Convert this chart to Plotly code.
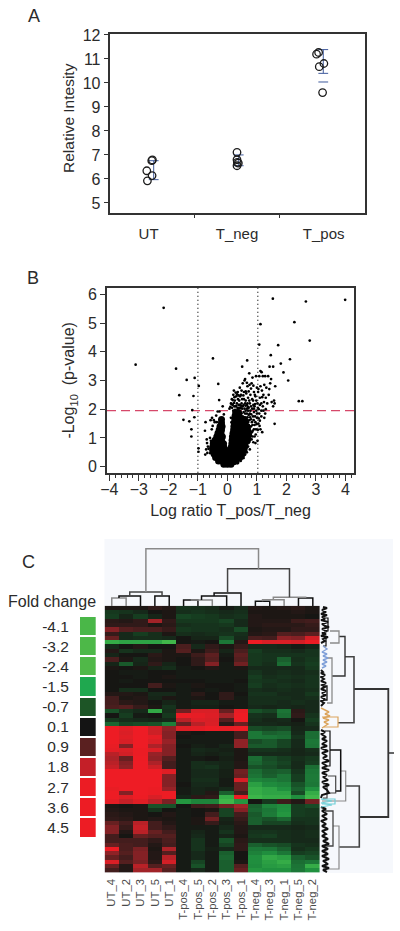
import plotly.graph_objects as go

W, H = 400, 931
FONT = "Liberation Sans"
TXT = "#2b2b2b"

# ---------- Panel A ----------
CATS = ["UT", "T_neg", "T_pos"]
CAT_POS = [0.46, 1.5, 2.52]
A_X = [0.439, 0.446, 0.501, 0.497, 0.505, 1.5, 1.5, 1.504, 1.516, 1.5, 2.436, 2.46, 2.522, 2.468, 2.507]
A_Y = [6.34, 5.92, 6.14, 6.76, 6.79, 7.11, 6.80, 6.69, 6.66, 6.55, 11.2, 11.27, 10.81, 10.68, 9.6]
ERR_X = [0.52, 1.52, 2.515]
ERR_HI = [6.76, 7.0, 11.39]
ERR_LO = [5.97, 6.55, 10.4]
ERR_EXTRA = [10.04]

# ---------- Panel B ----------
VOL_CORE = [
 (-.12,.08),(0,.08),(.12,.08),
 (-.3,.2),(-.18,.2),(-.06,.2),(.06,.2),(.18,.2),(.3,.2),
 (-.4,.32),(-.28,.32),(-.16,.32),(-.04,.32),(.08,.32),(.2,.32),(.32,.32),(.42,.32),
 (-.45,.44),(-.33,.44),(-.21,.44),(-.09,.44),(.03,.44),(.15,.44),(.27,.44),(.39,.44),(.5,.44),
 (-.5,.56),(-.38,.56),(-.26,.56),(-.14,.56),(-.03,.56),(.1,.56),(.22,.56),(.34,.56),(.46,.56),(.56,.56),
 (-.5,.68),(-.38,.68),(-.26,.68),(-.12,.68),(.13,.68),(.25,.68),(.37,.68),(.49,.68),(.58,.68),
 (-.48,.8),(-.36,.8),(-.24,.8),(-.13,.8),(.15,.8),(.27,.8),(.39,.8),(.51,.8),(.6,.8),
 (-.42,.92),(-.3,.92),(-.2,.92),(.16,.92),(.28,.92),(.4,.92),(.52,.92),(.62,.92),(.68,.92),
 (-.36,1.04),(-.26,1.04),(-.17,1.04),(.17,1.04),(.29,1.04),(.41,1.04),(.53,1.04),(.62,1.04),(.7,1.04),
 (-.32,1.16),(-.22,1.16),(.19,1.16),(.31,1.16),(.43,1.16),(.55,1.16),(.66,1.16),(.72,1.16),
 (-.28,1.28),(-.2,1.28),(.21,1.28),(.33,1.28),(.45,1.28),(.58,1.28),(.68,1.28),
 (-.25,1.4),(-.18,1.4),(.22,1.4),(.34,1.4),(.46,1.4),(.56,1.4),(.66,1.4),
 (-.2,1.52),(.23,1.52),(.35,1.52),(.47,1.52),(.58,1.52),
 (-.2,1.64),(.25,1.64),(.37,1.64),(.47,1.64),(.58,1.64),
 (.26,1.76),(.38,1.76),(.28,1.88),(.38,1.88),
]
VOL_SPARSE = [
 (3.99,5.81),(2.66,5.75),(1.54,5.85),(-2.16,5.53),(2.27,5.03),(1.12,4.96),(2.79,4.39),(1.08,4.25),(1.72,4.23),
 (-.49,3.77),(.67,3.7),(2.12,3.74),(1.47,3.88),(-3.11,3.55),(-1.74,3.41),(1.81,3.59),(.5,3.48),(1.43,3.48),
 (1.55,3.48),(1.12,3.33),(1.16,3.29),(1.9,3.28),(2.06,3.0),(-1.38,3.02),(-1.11,3.09),(-.31,2.88),(-.97,2.81),
 (-1.63,2.49),(-1.15,2.46),(2.42,2.28),(2.54,2.28),(1.6,1.49),(-1.49,1.63),(-1.29,1.58),(-1.22,1.3),(-1.22,1.05),
 (-1.12,1.72),(-1.19,1.97),(-.98,.64),(-.98,.52),
 (.07,2.02),(.12,2.2),(.15,2.35),(.18,2.15),(.2,2.5),(.22,2.65),(.25,2.3),(.28,2.1),(.3,2.45),(.32,2.2),(.35,2.6),
 (.36,2.35),(.38,2.15),(.4,2.3),(.42,2.75),(.45,2.05),(.46,2.5),(.48,2.2),(.5,2.35),(.52,2.9),(.55,2.15),(.56,2.6),
 (.58,3.0),(.6,3.05),(.62,2.3),(.64,2.55),(.66,2.15),(.68,2.8),(.7,2.4),(.72,2.05),(.74,3.25),(.76,2.2),(.78,2.5),
 (.8,2.1),(.82,2.9),(.85,3.1),(.87,2.3),(.9,2.6),(.92,2.1),(.95,2.45),(.97,3.15),(1.0,2.75),(1.02,2.2),(1.04,2.6),
 (1.05,2.7),(1.08,3.15),(1.1,2.4),(1.12,2.8),(1.15,2.2),(1.17,2.65),(1.2,3.15),(1.22,2.5),(1.25,2.85),(1.28,3.15),
 (1.3,2.4),(1.32,2.75),(1.35,2.2),(1.38,3.15),(1.42,2.7),(1.45,2.9),(1.48,3.05),(1.5,2.25),(1.55,2.1),(1.58,2.3),
 (1.62,2.8),(1.6,2.2),(1.4,2.5),(1.3,2.0),(1.2,2.1),(1.15,1.95),(1.03,2.05),(.98,2.3),(.93,2.5),(.88,2.15),(.84,2.35),
 (.74,2.3),(.68,2.2),(.6,2.2),(.56,2.35),(.52,2.1),(.42,2.15),(.34,2.05),(.24,2.1),(.16,2.05),(.1,2.08),
 (.55,1.9),(.6,1.7),(.62,1.95),(.66,1.85),(.7,1.55),(.72,1.8),(.75,1.35),(.78,1.95),(.8,1.65),(.83,1.2),(.85,1.45),
 (.87,1.75),(.9,1.9),(.92,1.05),(.95,1.55),(.97,1.3),(1.0,1.7),(1.02,.9),(1.05,1.5),(1.08,1.85),(1.1,1.6),(1.12,1.3),
 (1.15,1.75),(1.18,1.2),(1.22,1.95),(1.25,1.7),(.88,.85),(.95,.82),(.75,.95),(.72,1.1),(.68,.85),(.82,.95),(.7,.7),
 (.76,.6),(.66,.5),(.6,.42),(.55,.3),(.45,.2),(.35,.12),(.25,.1),
 (.58,1.55),(.62,1.35),(.65,1.6),(.68,1.3),(.72,1.45),(.78,1.15),(.8,1.4),(.85,1.05),(.9,1.3),(.94,1.75),(.98,1.95),
 (.7,1.95),(.6,1.85),(.52,1.75),(.56,1.65),(.48,1.85),(.42,1.95),(.33,1.95),(.2,1.95),(.12,1.7),(.14,1.55),
 (.74,1.02),(.77,1.25),(.8,1.08),(.73,.84),(.71,1.22),(.74,1.62),(.77,1.72),(.83,1.55),(.86,1.25),(.89,1.62),(.92,1.45),
 (.96,1.12),(.99,1.48),(1.03,1.28),(1.06,1.68),(1.09,1.42),(.68,1.72),(.7,2.08),(.76,1.85),(.81,1.82),(.84,2.02),(.9,2.02),
 (.94,2.18),(1.0,1.85),(1.06,2.0),(1.1,2.15),(1.18,2.42),(1.24,2.25),(1.28,1.85),(.66,2.02),(.62,2.12),(.58,2.02),(.5,2.02),
 (.46,2.12),(.44,1.82),(.4,2.05),(.36,2.02),(.3,2.12),(.26,1.98),(.22,2.22),(.18,2.32),(.14,2.18),(.24,2.42),(.33,2.52),
 (.43,2.45),(.54,2.48),(.62,2.62),(.72,2.62),(.8,2.72),(.88,2.82),(.48,2.65),(.38,2.48),(.28,2.58),(.66,2.92),(.75,2.85),
 (-.76,1.25),(-.74,1.55),(-.7,.95),(-.69,.82),(-.66,.7),(-.64,.62),(-.59,1.0),(-.56,.9),(-.53,1.3),(-.5,1.42),(-.46,1.62),
 (-.43,1.55),(-.38,1.78),(-.36,1.55),(-.27,1.92),(-.16,2.1),(-.12,1.82),(-.28,2.32),(-.33,1.92),(-.52,1.7),(-.57,1.62),
 (-.72,.6),(-.75,.42),(-.68,.48),(-.58,.47),
]
LOG_CUT_LEFT = -1.0
LOG_CUT_RIGHT = 1.03
P_CUT = 1.95

# ---------- Panel C ----------
SAMPLES = ["UT_4","UT_2","UT_3","UT_5","UT_1","T-pos_4","T-pos_5","T-pos_2","T-pos_3","T-pos_1",
           "T-neg_4","T-neg_3","T-neg_1","T-neg_5","T-neg_2"]
FOLD = [-4.1,-3.2,-2.4,-1.5,-0.7,0.1,0.9,1.8,2.7,3.6,4.5]
FOLD_COL = ["#4ab748","#4db848","#50b848","#1fa84f","#1d5526","#141414","#5a2020","#c41f28","#ec1c24","#ed1c24","#ed1c24"]
CELL_COL = ["#4cbb4a","#3cb54a","#20913f","#1c7436","#163d20","#161613","#4a1e1e","#a12328","#d81f26","#ed1c24","#ee1c25"]
HEAT = [
 [.2,.2,.2,.5,.3,-.5,-.4,-.3,0,-.3,.3,.2,.3,.4,.2],
 [-.6,-.5,-.3,.1,.2,-.4,-.5,-.4,-.3,-.4,.2,.2,.2,.3,.2],
 [-.7,-.2,-.7,-.2,.2,-.8,-.7,-.6,-.4,-.5,.3,.2,.2,.2,.1],
 [.4,.3,.5,1.8,.5,-.6,-.6,-.6,-.8,-.3,.3,.3,.3,.7,.8],
 [.5,.5,.5,.2,.4,-.4,-.5,-.5,-.6,-.3,.3,.4,.4,.4,.6],
 [1.5,1.0,.9,.9,.6,-.6,-.5,-.5,-.4,-.9,.2,.3,.3,.5,.5],
 [.6,-.3,-.7,-.4,.2,-.4,-.3,-.4,-.5,-.4,.3,.4,1.0,.9,1.1],
 [1.2,-.3,-.4,-.4,-.3,.1,-.2,-.2,-.9,-.3,.9,.8,1.6,1.5,2.6],
 [-3,-2.8,-2.8,-2.8,-3.5,.1,0,.1,-1.6,.3,3.7,2.7,2.8,2.6,3.8],
 [-.3,.1,.3,.1,.1,.9,-.3,.5,.2,.6,-.3,-.3,-.2,0,-.2],
 [.3,-.5,-.3,-.3,.2,1.0,.2,.7,-.2,.9,-.7,-.4,-.4,-.3,-.5],
 [-.2,.1,.1,.4,.2,.2,.7,1.1,0,1.1,-.6,-.5,-.5,-.5,-.5],
 [.9,.2,-.3,.3,.2,.1,.5,1.0,.1,1.0,-.6,-.5,-1.2,-.4,-.6],
 [-.2,-1.1,-.2,.5,-.2,.1,.5,1.5,0,1.3,-.6,-.4,-1.4,-.5,-.7],
 [.2,.1,.2,-.2,-.4,0,.1,.3,0,.2,-.3,-.3,-.3,-.3,-.6],
 [.1,0,0,.1,.1,0,0,0,0,0,-.5,-.3,-.4,-.3,-.4],
 [.1,.1,0,.1,.2,0,0,0,0,0,-.7,-.4,-.5,-.4,-.5],
 [.1,0,.1,.1,.1,.1,.1,0,0,.1,-.6,-.5,-.4,-.3,-.5],
 [.1,.1,.1,.8,.2,0,.2,.1,.1,0,-.7,-.4,-.5,-.4,-.5],
 [.1,-.4,-.4,.1,.1,0,.1,0,.1,0,-.4,-.3,-.4,-.3,-.4],
 [.3,.3,.2,-.3,-.3,0,.4,.1,.5,.1,-.5,-.5,-.3,-.3,-.6],
 [.8,.2,.3,-.2,.2,0,.2,.1,.5,0,-.4,-.4,-.4,-.3,-.4],
 [.8,.4,.3,.1,-.2,0,-.2,-.2,0,0,-.4,-.4,-.3,-.4,-.3],
 [.9,1.0,.6,.2,-.5,0,-.1,-.1,.1,0,-.3,-.2,-.3,-.2,-.3],
 [-1.0,-.5,-.3,-2.9,-.4,1.3,2.7,2.7,1.2,3.3,-1,-.8,-1.5,.4,-.3],
 [.1,-.7,0,.1,-.6,3.5,3.3,2.9,1.8,4,-.5,-.4,-1.4,.5,-.5],
 [-.6,-.4,-.3,-.2,-.3,2.2,2.9,2.7,1.0,3.8,-.4,-.2,-.3,.1,-.7],
 [-1.3,-.8,-.9,-1.0,-1.8,1.2,2.2,2.8,.4,1.2,-.3,-.3,-.2,-.1,-.5],
 [4,3,4.5,2.5,1.6,3.0,3.2,3.8,3.4,3.9,-.9,-.8,-.9,-.2,-.3],
 [4,2.8,4.5,2.5,1.5,.2,.1,0,0,.8,-1.6,-1.2,-1.3,-.3,-1.4],
 [4,3,4.5,3.2,1.5,.1,0,0,0,.8,-1.6,-1.5,-1.4,-.5,-1.4],
 [4,2.7,4.5,2.8,1.7,0,0,0,0,1.6,-.9,-1.1,-.8,-.3,-1.6],
 [3.4,1.5,4.5,2.0,1.5,.1,-.1,0,-.2,1.6,-1.1,-1.1,-.8,-.3,-1.5],
 [3.2,2.8,3.5,2.8,1.5,0,-.3,-.2,-.1,.2,-.5,-.5,-.4,-.2,-.4],
 [2.2,2.6,3.5,1.7,1.5,0,-.2,-.1,-.2,.2,-.3,-.3,-.3,-.2,-.3],
 [2.0,1.2,4.0,1.6,1.0,0,0,.1,-.1,.2,-1.4,-.9,-.7,-.4,-.6],
 [2.2,1.5,4.3,2.0,.8,0,-.4,-.3,-.2,.3,-1.3,-1.0,-.8,-.3,-.7],
 [2.4,1.6,4.5,2.5,.8,0,-.4,-.5,-.2,.3,-1.0,-.9,-.7,-.3,-1.4],
 [4.5,4.5,4.5,4.5,3.0,0,-.3,-.3,-.1,1.3,-1.4,-1.1,-1.2,-.5,-1.6],
 [4.5,4.5,4.5,4.5,1.5,0,-.3,-.3,-.1,1.2,-1.5,-1.2,-1.5,-.7,-1.7],
 [4.5,4.5,4.5,4.5,1.5,0,-.4,-.4,0,2.7,-2.0,-1.8,-1.5,-.7,-1.7],
 [4.5,4.5,4.5,4.5,1.5,.1,-.3,-.3,0,1.2,-2.7,-2.2,-2.0,-1,-1.6],
 [3.4,4.2,4.5,3.5,1.7,0,-.2,-.1,-.3,1.2,-3.0,-2.8,-2.4,-1.2,-2.4],
 [4,1.5,4.5,3.5,4.0,0,-.2,.3,-1.2,.8,-3,-2.8,-2.8,-.9,-3],
 [4,3.0,3.8,2.7,3.8,-.2,.4,.5,-3,4,-3.2,-3,-3,-2.3,-3.4],
 [3.2,2.4,3,2.2,1.4,-2.5,-2,-2,-3.4,-2.5,.1,-.6,.7,.3,1.3],
 [.2,.1,.2,-1,-1,.1,.7,.8,1.3,1.8,-1.2,-2,-2.3,-.7,-.9],
 [.3,.2,.2,-.5,.1,0,.1,.2,-.8,1.5,-1.3,-1.6,-2.4,-.7,-.6],
 [.4,.3,.2,.1,.3,0,.1,.8,-.8,.8,-1.1,-1.7,-2.5,-.7,-.6],
 [.5,.4,.2,.3,.2,0,.2,1.3,-.2,.6,-1.2,-1,-1.3,-.5,-.5],
 [1.2,.8,2.2,.8,.3,0,.2,.6,-.1,.4,-1.2,-.8,-.8,-.4,-.5],
 [1.5,.6,2.4,.8,.5,0,0,0,-.3,.3,-.3,-.3,-.3,-.2,-.3],
 [1.5,.3,2.2,1.2,.8,0,-.2,0,-.5,.3,-.5,-.5,-.4,-.3,-.4],
 [.8,.1,1.2,1.0,1.0,0,-.3,0,-.2,.2,-.6,-.7,-.4,-.3,-.4],
 [.8,.8,.8,.5,.9,0,-.5,0,-1.0,.4,-.4,-.4,-.4,-.3,-.3],
 [1.2,.9,.8,.3,.8,0,-.5,0,-.8,.5,-1.2,-1.0,-.9,-.5,-.4],
 [3.8,.9,1.4,.2,2.0,0,-.5,-.1,-.3,.5,-1.6,-1.5,-1.2,-.4,-.6],
 [1.6,1,1.5,.3,1.0,0,-.3,0,-1.2,.1,-1.9,-2.3,-1.6,-.7,-.8],
 [1.2,.8,1.5,.3,2.2,0,-.3,0,-1.3,.1,-2.3,-2.9,-2.7,-1.2,-1.0],
 [2.8,1.0,1.4,.4,2.6,0,-.8,0,-1.2,.2,-2.3,-2.7,-3,-1.4,-1.6],
 [1.2,.3,2.2,1.0,1.2,0,-1.0,0,-1.2,1.0,-2.2,-2.6,-2.7,-1.5,-3],
 [.8,.3,1.8,1.8,1.0,0,-.3,0,-1.2,1.2,-2.5,-2.4,-2.4,-1.6,-2.4],
]
# column tree: (child a, child b, height, colour); ints < 15 are leaves, "n" refers to the n-th merge
GR, BK, DK = "#8a8a8a", "#111111", "#444444"
TOP_TREE = [
 (0, 1, 8, GR), (("n", 0), 2, 10, BK), (3, 4, 10, BK), (("n", 1), ("n", 2), 14, DK),
 (5, 6, 6, BK), (("n", 4), 7, 6, GR), (("n", 5), 8, 10, BK), (("n", 6), 9, 13, BK),
 (10, 11, 4.7, BK), (("n", 8), 12, 6.3, GR), (13, 14, 8, BK), (("n", 9), ("n", 10), 8.7, GR),
 (("n", 7), ("n", 11), 37.3, DK), (("n", 3), ("n", 12), 57.3, GR),
]
# row tree links: (parent height, pos a, pos b, height a, height b, colour, width)
BL, OR, CY = "#7f9fd8", "#dba45c", "#6fd0d8"
SIDE_LINKS = [
 (68.3, 83, 211, 34, 39.3, "#333333", 1.8), (34, 50.7, 116.7, 25, 18, "#444444", 1.6),
 (25, 30.5, 70, 19, 12, "#333333", 1.4), (19, 25, 37, 10, 10, GR, 1.3),
 (12, 52, 97, 6, 7, GR, 1.3), (7, 80, 94, 3, 3, BK, 1.3), (18, 111, 121, 2, 4, OR, 1.2),
 (39.3, 180, 241, 25.7, 19, "#444444", 1.6), (25.7, 165, 195, 20.7, 2, GR, 1.2),
 (15, 193, 198, 2, 2, CY, 1.2), (20.7, 144, 185, 10, 15.7, BK, 1.5), (15.7, 170, 187, 8, 8, DK, 1.2),
 (10, 125, 160, 5, 5, BK, 1.2), (19, 220, 263, 13, 5, GR, 1.2), (13, 205, 240, 5, 5, DK, 1.3),
 (8, 12, 25, 4, 4, BK, 1.2), (6, 30, 40, 3, 3, BK, 1.2), (74, 147, 147, 68.3, 68.3, "#333333", 1.5),
 (7, 178, 192, 3, 3, DK, 1.2), (6, 245, 262, 3, 3, GR, 1.1),
]
# leaf tangles along the row edge: position, height
TANGLE_BLACK = [
 (1,3),(2,7),(4,2),(6,6),(8,1),(9,7),(11,2),(13,5),(14,1),(16,8),(18,2),(20,5),(21,9),(23,2),(25,7),(27,2),(28,6),(30,1),(31,8),(33,3),(35,5),(37,1),
 (None,None),
 (64,1),(66,3),(67,1),(69,5),(71,1),(73,4),(75,1),(77,6),(79,2),(81,5),(83,1),(85,6),(87,2),(89,6),(91,1),(93,5),(95,1),(97,4),(100,1),
 (None,None),
 (124,1),(126,5),(128,1),(131,6),(133,2),(135,7),(138,2),(140,7),(142,1),(145,8),(147,2),(150,7),(152,3),(155,9),(157,2),(160,7),(162,2),(164,9),
 (167,2),(169,7),(171,3),(174,8),(176,2),(179,9),(181,3),(184,7),(187,9),(189,2),(192,1),
 (None,None),
 (201,1),(203,6),(205,2),(208,7),(210,2),(213,7),(215,1),(218,6),(220,2),(223,8),(225,2),(228,6),(230,2),(233,8),(235,3),(238,9),(240,2),(243,8),
 (245,2),(248,8),(250,2),(253,9),(255,3),(258,8),(260,2),(262,9),(264,3),(266,7),
]
TANGLE_BLUE = [(40,3),(43,7),(46,2),(48,7),(50,3),(52,8),(54,3),(56,7),(58,2),(60,6),(62,2)]
TANGLE_ORANGE = [(102,1),(104,6),(106,9),(108,5),(110,10),(112,3),(114,9),(116,4),(118,8),(120,5),(122,2)]
TANGLE_CYAN = [(193,1),(195,12),(197,1),(199,12),(201,1)]


def dx(a, b):
    return [a / W, b / W]


def dy(top, bottom):
    return [1 - bottom / H, 1 - top / H]


fig = go.Figure()

# panel A
fig.add_trace(go.Scatter(x=[v for x in ERR_X for v in (x, x, None)],
                         y=[v for l, h in zip(ERR_LO, ERR_HI) for v in (l, h, None)],
                         mode="lines", line=dict(color="#3f5a9c", width=1), xaxis="x", yaxis="y", showlegend=False))
fig.add_trace(go.Scatter(x=ERR_X * 2 + [ERR_X[2]], y=ERR_HI + ERR_LO + ERR_EXTRA, mode="markers",
                         marker=dict(symbol="line-ew", size=7, line=dict(color="#3f5a9c", width=1)),
                         xaxis="x", yaxis="y", showlegend=False))
fig.add_trace(go.Scatter(x=A_X, y=A_Y, mode="markers",
                         marker=dict(symbol="circle-open", size=7.5, color="#1c1c1c", line=dict(width=1.3, color="#1c1c1c")),
                         xaxis="x", yaxis="y", showlegend=False))

# panel B
fig.add_trace(go.Scatter(x=[p[0] for p in VOL_CORE], y=[p[1] for p in VOL_CORE], mode="markers",
                         marker=dict(color="#000", size=7), xaxis="x2", yaxis="y2", showlegend=False))
fig.add_trace(go.Scatter(x=[p[0] for p in VOL_SPARSE], y=[p[1] for p in VOL_SPARSE], mode="markers",
                         marker=dict(color="#000", size=2.7), xaxis="x2", yaxis="y2", showlegend=False))

# panel C heatmap
span = FOLD[-1] - FOLD[0]
legend_scale = [[(v - FOLD[0]) / span, c] for v, c in zip(FOLD, FOLD_COL)]
cell_scale = [[(v - FOLD[0]) / span, c] for v, c in zip(FOLD, CELL_COL)]
fig.add_trace(go.Heatmap(z=HEAT, x=SAMPLES, colorscale=cell_scale, zmin=FOLD[0], zmax=FOLD[-1], showscale=False,
                         xaxis="x3", yaxis="y3"))
fig.add_trace(go.Heatmap(z=[[v] for v in FOLD], x=["fold"], y=[str(v) for v in FOLD], colorscale=legend_scale,
                         zmin=FOLD[0], zmax=FOLD[-1], showscale=False, ygap=2, xaxis="x4", yaxis="y4"))

# column dendrogram
pos = []
hts = []


def locate(c):
    if isinstance(c, tuple):
        return pos[c[1]], hts[c[1]]
    return c + 0.5, 0


for a, b, h, col in TOP_TREE:
    xa, ya = locate(a)
    xb, yb = locate(b)
    fig.add_trace(go.Scatter(x=[xa, xa, xb, xb], y=[ya, h, h, yb], mode="lines", line=dict(color=col, width=1.5),
                             xaxis="x5", yaxis="y5", showlegend=False))
    pos.append((xa + xb) / 2)
    hts.append(h)

# row dendrogram
for hp, pa, pb, ha, hb, col, w in SIDE_LINKS:
    fig.add_trace(go.Scatter(x=[ha, hp, hp, hb], y=[pa, pa, pb, pb], mode="lines", line=dict(color=col, width=w),
                             xaxis="x6", yaxis="y6", showlegend=False))
for tangle, col, w in ((TANGLE_BLACK, "#111111", 2), (TANGLE_BLUE, BL, 1.4), (TANGLE_ORANGE, OR, 1.4), (TANGLE_CYAN, CY, 1.2)):
    fig.add_trace(go.Scatter(x=[p[1] for p in tangle], y=[p[0] for p in tangle], mode="lines",
                             line=dict(color=col, width=w), xaxis="x6", yaxis="y6", showlegend=False))

tick = dict(family=FONT, size=16, color=TXT)
frame = dict(showline=True, linecolor="#333333", linewidth=1.6, mirror=True, showgrid=False, zeroline=False,
             ticks="outside", tickcolor="#333333", tickfont=tick, automargin=False)
hidden = dict(visible=False, showgrid=False, zeroline=False, automargin=False)

fig.update_layout(
    template="none",
    width=W, height=H, margin=dict(l=0, r=0, t=0, b=0), paper_bgcolor="white", plot_bgcolor="rgba(0,0,0,0)",
    showlegend=False, font=dict(family=FONT, color=TXT),
    xaxis=dict(frame, domain=dx(109.5, 364.5), range=[0, 3], anchor="y", tickvals=CAT_POS, ticktext=CATS, ticks="", ticklen=0,
               tickfont=dict(family=FONT, size=15, color=TXT), ticklabelstandoff=6,
               minor=dict(tickvals=[1, 2], ticks="outside", ticklen=3, tickcolor="#333333")),
    yaxis=dict(frame, domain=dy(34, 213), range=[4.58, 12.04], anchor="x", tickvals=list(range(5, 13)), ticklen=4),
    xaxis2=dict(frame, domain=dx(107, 354), range=[-4.08, 4.29], anchor="y2", tickvals=list(range(-4, 5)), ticklen=6,
                ticklabelstandoff=-5,
                minor=dict(dtick=0.2, ticks="outside", ticklen=3, tickcolor="#333333"),
                title=dict(text="Log ratio T_pos/T_neg", font=dict(family=FONT, size=16, color=TXT), standoff=8)),
    yaxis2=dict(frame, domain=dy(288, 472.7), range=[-0.21, 6.22], anchor="x2", tickvals=list(range(0, 7)), ticklen=5,
                title=dict(text="-Log<sub>10</sub>  (p-value)", font=dict(family=FONT, size=16, color=TXT), standoff=9)),
    xaxis3=dict(domain=dx(104.6, 320), anchor="y3", showgrid=False, zeroline=False, tickangle=-90, ticks="outside", ticklen=1,
                tickcolor="rgba(0,0,0,0)", tickfont=dict(family=FONT, size=11.3, color="#4a4a4a"), automargin=False),
    yaxis3=dict(hidden, domain=dy(605.7, 872.5), anchor="x3", autorange="reversed"),
    xaxis4=dict(hidden, domain=dx(80, 95.7), anchor="y4"),
    yaxis4=dict(domain=dy(616, 837.5), autorange="reversed", type="category", showgrid=False, zeroline=False,
                ticks="outside", ticklen=7, tickcolor="rgba(0,0,0,0)", automargin=False,
                tickfont=dict(family=FONT, size=15.5, color=TXT), anchor="x4"),
    xaxis5=dict(hidden, domain=dx(104.6, 320), range=[0, 15], anchor="y5"),
    yaxis5=dict(hidden, domain=dy(539, 606), range=[0, 67], anchor="x5"),
    xaxis6=dict(hidden, domain=dx(320, 400), range=[0, 80], anchor="y6"),
    yaxis6=dict(hidden, domain=dy(606, 873), range=[267, 0], anchor="x6"),
    shapes=[
        dict(type="rect", xref="paper", yref="paper", x0=104.5 / W, x1=393 / W, y0=1 - 873 / H, y1=1 - 539 / H,
             fillcolor="#f6f8fc", line=dict(width=0), layer="below"),
        dict(type="line", xref="x2", yref="y2 domain", x0=LOG_CUT_LEFT, x1=LOG_CUT_LEFT, y0=0, y1=1,
             line=dict(color="#111", width=1.2, dash="1px,3px")),
        dict(type="line", xref="x2", yref="y2 domain", x0=LOG_CUT_RIGHT, x1=LOG_CUT_RIGHT, y0=0, y1=1,
             line=dict(color="#111", width=1.2, dash="1px,3px")),
        dict(type="line", xref="x2 domain", yref="y2", x0=0, x1=1, y0=P_CUT, y1=P_CUT, layer="below",
             line=dict(color="#d6486a", width=1.2, dash="9px,5px")),
    ],
    annotations=[
        dict(text="A", xref="paper", yref="paper", x=34 / W, y=1 - 16 / H, xanchor="center", yanchor="middle", showarrow=False, font=dict(family=FONT, size=18, color=TXT)),
        dict(text="B", xref="paper", yref="paper", x=33 / W, y=1 - 278 / H, xanchor="center", yanchor="middle", showarrow=False, font=dict(family=FONT, size=18, color=TXT)),
        dict(text="C", xref="paper", yref="paper", x=29 / W, y=1 - 562 / H, xanchor="center", yanchor="middle", showarrow=False, font=dict(family=FONT, size=18, color=TXT)),
        dict(text="Fold change", xref="paper", yref="paper", x=52 / W, y=1 - 601.5 / H, xanchor="center", yanchor="middle", showarrow=False, font=dict(family=FONT, size=16, color=TXT)),
        dict(text="Relative Intesity", xref="paper", yref="paper", x=69 / W, y=1 - 118 / H, xanchor="center", yanchor="middle", textangle=-90, showarrow=False, font=dict(family=FONT, size=15.5, color=TXT)),
    ],
)

fig.write_html("out.html", config={"displayModeBar": False}, post_script="document.body.style.margin='0';")
